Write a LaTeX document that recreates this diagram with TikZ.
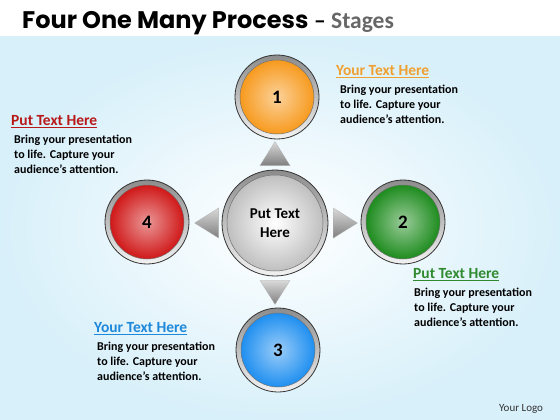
\documentclass[tikz,border=0pt]{standalone}
\usepackage{fontspec}
\setmainfont{Carlito}
\newfontfamily\titlefont{Poppins}
\usepackage{tikz}
\usetikzlibrary{shapes.geometric}

\definecolor{stageorange}{HTML}{F79A1E}
\definecolor{stagegreen}{HTML}{1E8C1E}
\definecolor{stageblue}{HTML}{1F8FF0}
\definecolor{stagered}{HTML}{D01818}
\definecolor{headorange}{HTML}{F0A030}
\definecolor{headred}{HTML}{B81818}
\definecolor{headgreen}{HTML}{2F8A2F}
\definecolor{headblue}{HTML}{1E88DA}
\definecolor{skyblue}{HTML}{D8F0FA}

\tikzset{
	ring/.style={circle, inner sep=0pt, minimum size=#1, draw=black!80, line width=0.8pt,
		top color=black!45, bottom color=black!5},
	ball/.style={circle, inner sep=0pt, minimum size=74pt, draw=black!55, line width=0.5pt,
		inner color=#1!45!white, outer color=#1, font=\bfseries\fontsize{19}{19}\selectfont},
	pointer/.style={draw=black!30, line width=0.3pt, top color=black!15, bottom color=black!50},
	heading/.style={anchor=north west, inner sep=0pt, font=\bfseries\fontsize{15.5}{15.5}\selectfont},
	body/.style={anchor=north west, inner sep=0pt, align=left, font=\bfseries\fontsize{12}{15}\selectfont}
}

\begin{document}
\begin{tikzpicture}[x=1pt, y=-1pt]
			\useasboundingbox (0, 0) rectangle (560, 420);
			% Background:
			\shade[inner color=white, outer color=skyblue] (0, 37) rectangle (560, 420);
			% Title:
			\node[anchor=base west, inner sep=0pt](T1) at (22, 29){\titlefont\bfseries\fontsize{24}{24}\selectfont Four One Many Process};
			\node[anchor=base west, inner sep=0pt, text=black!60](T2) at (T1.base east){\bfseries\fontsize{23.5}{23.5}\selectfont\ \textcolor{black}{--} Stages};
			% Hub and stages:
			\node[ring=106pt](hubring) at (275, 223){};
			\node[circle, inner sep=0pt, minimum size=96pt, draw=black!55, line width=0.5pt, inner color=white, outer color=black!25,
				align=center, font=\bfseries\fontsize{15}{19}\selectfont](hub) at (275, 223){Put Text\\Here};
			\node[ring=84pt](r1) at (277, 97){};
			\node[ball=stageorange](s1) at (277, 97){1};
			\node[ring=84pt](r2) at (403, 222){};
			\node[ball=stagegreen](s2) at (403, 222){2};
			\node[ring=84pt](r3) at (278, 350){};
			\node[ball=stageblue](s3) at (278, 350){3};
			\node[ring=84pt](r4) at (147, 222){};
			\node[ball=stagered](s4) at (147, 222){4};
			% Pointers:
			\draw[pointer] ([yshift=4pt]hubring.north) -- ++(15, 0) -- ++(-15, -24) -- ++(-15, 24) -- cycle;
			\draw[pointer] ([yshift=-4pt]hubring.south) -- ++(15, 0) -- ++(-15, 24) -- ++(-15, -24) -- cycle;
			\draw[pointer] ([xshift=5pt]hubring.east) -- ++(0, -15) -- ++(24, 15) -- ++(-24, 15) -- cycle;
			\draw[pointer] ([xshift=-3pt]hubring.west) -- ++(0, -15) -- ++(-24, 15) -- ++(24, 15) -- cycle;
			% Texts:
			\node[heading, text=headorange](H1) at (336, 65){\underline{Your Text Here}};
			\node[body](B1) at (340, 85){Bring your presentation\\to life. Capture your\\audience’s attention.};
			\node[heading, text=headred](H4) at (11, 115){\underline{Put Text Here}};
			\node[body](B4) at (14, 135){Bring your presentation\\to life. Capture your\\audience’s attention.};
			\node[heading, text=headgreen](H2) at (413, 268){\underline{Put Text Here}};
			\node[body](B2) at (414, 288){Bring your presentation\\to life. Capture your\\audience’s attention.};
			\node[heading, text=headblue](H3) at (94, 322){\underline{Your Text Here}};
			\node[body](B3) at (97, 342){Bring your presentation\\to life. Capture your\\audience’s attention.};
			\node[anchor=base west, inner sep=0pt, font=\fontsize{11}{11}\selectfont, text=black!80](logo) at (499, 411){Your Logo};
		\end{tikzpicture}
\end{document}
